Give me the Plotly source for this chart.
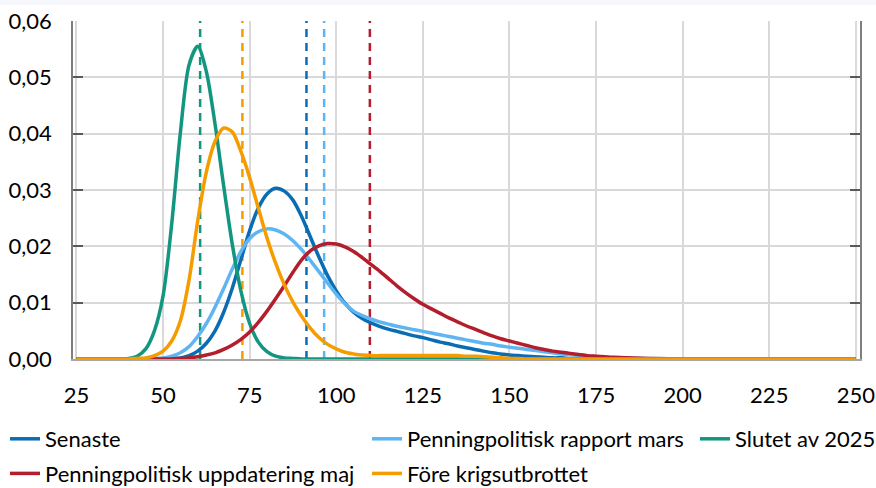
import plotly.graph_objects as go

# ---- data ----
x_vals = [25, 30, 35, 37.5, 40, 42.5, 45, 47.5, 50, 52.5, 55, 57.5, 60, 62.5, 65, 67.5, 70, 72.5,
          75, 77.5, 80, 82.5, 85, 87.5, 90, 92.5, 95, 97.5, 100, 102.5, 105, 107.5, 110, 112.5,
          115, 117.5, 120, 122.5, 125, 127.5, 130, 132.5, 135, 137.5, 140, 142.5, 145, 147.5,
          150, 152.5, 155, 157.5, 160, 162.5, 165, 167.5, 170, 172.5, 175, 177.5, 180,
          190, 200, 225, 250]

senaste = [0, 0, 0, 0, 0, 0, 0, 0, 0, 0.0001, 0.0002, 0.0006, 0.0014, 0.0028, 0.0050, 0.0083,
           0.0126, 0.0177, 0.0228, 0.0268, 0.0293, 0.0303, 0.0298, 0.0282, 0.0253, 0.0217, 0.0181,
           0.0148, 0.0121, 0.0099, 0.0083, 0.0072, 0.0064, 0.0058, 0.0053, 0.0049, 0.0045, 0.0041,
           0.0038, 0.0034, 0.0030, 0.0027, 0.0023, 0.0020, 0.0017, 0.0014, 0.0011, 0.0009, 0.0007,
           0.0006, 0.0005, 0.0004, 0.0003, 0.0002, 0.0002, 0.0001, 0.0001, 0.0001, 0, 0, 0,
           0, 0, 0, 0]

ppr_mars = [0, 0, 0, 0, 0, 0, 0, 0.0001, 0.0002, 0.0005, 0.0011, 0.0022, 0.0040, 0.0063, 0.0092,
            0.0125, 0.0160, 0.0191, 0.0214, 0.0226, 0.0231, 0.0229, 0.0222, 0.0210, 0.0194, 0.0175,
            0.0155, 0.0135, 0.0115, 0.0098, 0.0085, 0.0077, 0.0071, 0.0066, 0.0062, 0.0058, 0.0055,
            0.0052, 0.0049, 0.0046, 0.0043, 0.0040, 0.0037, 0.0034, 0.0031, 0.0028, 0.0026, 0.0023,
            0.0021, 0.0019, 0.0017, 0.0015, 0.0013, 0.0011, 0.0009, 0.0008, 0.0006, 0.0005, 0.0004,
            0.0003, 0.0002, 0.0001, 0, 0, 0]

slutet_2025 = [0, 0, 0, 0, 0.0001, 0.0005, 0.0018, 0.0050, 0.0112, 0.0240, 0.0402, 0.0522, 0.0555,
               0.0510, 0.0417, 0.0307, 0.0203, 0.0120, 0.0063, 0.0030, 0.0013, 0.0005, 0.0002,
               0.0001, 0, 0, 0, 0, 0, 0, 0, 0, 0, 0, 0, 0, 0, 0, 0, 0, 0, 0, 0, 0, 0, 0, 0, 0, 0,
               0, 0, 0, 0, 0, 0, 0, 0, 0, 0, 0, 0, 0, 0, 0, 0]

ppu_maj = [0, 0, 0, 0, 0, 0, 0, 0, 0, 0, 0.0001, 0.0002, 0.0004, 0.0007, 0.0011, 0.0017, 0.0025,
           0.0035, 0.0048, 0.0065, 0.0085, 0.0107, 0.0130, 0.0154, 0.0176, 0.0192, 0.0201, 0.0205,
           0.0204, 0.0199, 0.0191, 0.0180, 0.0168, 0.0156, 0.0143, 0.0130, 0.0118, 0.0107, 0.0097,
           0.0089, 0.0081, 0.0073, 0.0066, 0.0059, 0.0053, 0.0047, 0.0041, 0.0036, 0.0032, 0.0028,
           0.0024, 0.0020, 0.0017, 0.0014, 0.0012, 0.0010, 0.0008, 0.0006, 0.0005, 0.0004, 0.0003,
           0.0001, 0, 0, 0]

fore_krig = [0, 0, 0, 0, 0, 0.0001, 0.0002, 0.0006, 0.0014, 0.0032, 0.0068, 0.0140, 0.0245,
             0.0332, 0.0386, 0.0410, 0.0403, 0.0368, 0.0322, 0.0268, 0.0215, 0.0170, 0.0132,
             0.0101, 0.0076, 0.0055, 0.0038, 0.0026, 0.0018, 0.0012, 0.0009, 0.0007, 0.0006,
             0.0006, 0.0006, 0.0006, 0.0006, 0.0006, 0.0006, 0.0006, 0.0006, 0.0006, 0.0006,
             0.0005, 0.0005, 0.0004, 0.0003, 0.0002, 0.0001, 0.0001, 0, 0, 0, 0, 0, 0, 0, 0, 0,
             0, 0, 0, 0, 0, 0]

series_names = ["Senaste", "Penningpolitisk rapport mars", "Slutet av 2025",
                "Penningpolitisk uppdatering maj", "Före krigsutbrottet"]
series_values = [senaste, ppr_mars, slutet_2025, ppu_maj, fore_krig]
dash_positions = [91.4, 96.5, 60.7, 109.7, 72.9]
x_ticks = [25, 50, 75, 100, 125, 150, 175, 200, 225, 250]
y_ticks = [0, 0.01, 0.02, 0.03, 0.04, 0.05, 0.06]

# ---- styles ----
colors = ["#0a6db3", "#5eb5f2", "#13967f", "#b31d2c", "#f59c00"]
legend_ids = ["legend", "legend2", "legend3", "legend", "legend2"]
FONT = "Lato"

fig = go.Figure()

for name, xv, c in zip(series_names, dash_positions, colors):
    fig.add_trace(go.Scatter(x=[xv, xv], y=[y_ticks[0], y_ticks[-1]], mode="lines",
                             line=dict(color=c, width=2.5, dash="8px,6px"),
                             showlegend=False, hoverinfo="skip"))

for name, vals, c, lg in zip(series_names, series_values, colors, legend_ids):
    fig.add_trace(go.Scatter(x=x_vals, y=vals, mode="lines", name=name,
                             line=dict(color=c, width=3.5, shape="spline", smoothing=0.8),
                             legend=lg, legendgroup=name))

legend_common = dict(orientation="v", xref="container", yref="container", yanchor="top",
                     xanchor="left", font=dict(family=FONT, size=22, color="#000"),
                     bgcolor="rgba(0,0,0,0)", tracegroupgap=3, itemwidth=30)

LEG_TOP = 1 - 418 / 488
fig.update_layout(
    width=876, height=488,
    margin=dict(l=73, r=16, t=21, b=129, autoexpand=False),
    paper_bgcolor="white", plot_bgcolor="white",
    separators=", ",
    font=dict(family=FONT, size=22, color="#000"),
    legend=dict(x=5 / 876, y=LEG_TOP, **legend_common),
    legend2=dict(x=367 / 876, y=LEG_TOP, **legend_common),
    legend3=dict(x=695 / 876, y=LEG_TOP, **legend_common),
    xaxis=dict(range=[24, 251.2], tickvals=x_ticks, showgrid=True, gridcolor="#d9d9d9",
               gridwidth=2, zeroline=False, showline=True, linecolor="#a6a6a6", linewidth=1.5,
               ticks="", tickfont=dict(family=FONT, size=22, color="#000"),
               ticklabelstandoff=16),
    yaxis=dict(range=[0, 0.06], tickvals=y_ticks, tickformat=".2f", showgrid=True,
               gridcolor="#d9d9d9", gridwidth=1.5, zeroline=False, showline=True,
               linecolor="#7f7f7f", linewidth=1.5, mirror="ticks", ticks="inside",
               ticklen=10, tickcolor="#595959", tickwidth=1.5,
               tickfont=dict(family=FONT, size=22, color="#000"), ticklabelstandoff=15),
    shapes=[dict(type="rect", xref="paper", yref="paper", x0=-0.2, x1=1.1,
                 y0=1 + 16 / 338, y1=1 + 21 / 338, fillcolor="#f6f8fb", line=dict(width=0),
                 layer="below")],
)

fig.write_html("out.html", config={"displayModeBar": False},
               post_script="document.body.style.margin='0px';")
